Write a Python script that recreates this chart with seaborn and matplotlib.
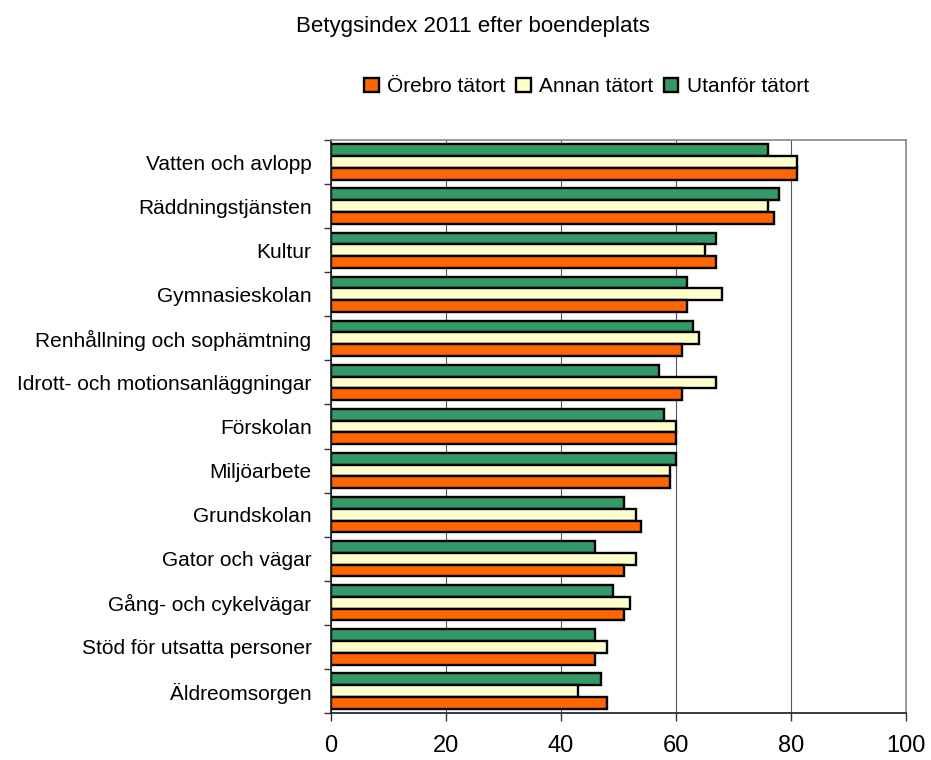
import matplotlib
matplotlib.use("Agg")
import matplotlib.pyplot as plt
import seaborn as sns
import pandas as pd
import numpy as np

categories = [
    "Vatten och avlopp",
    "Räddningstjänsten",
    "Kultur",
    "Gymnasieskolan",
    "Renhållning och sophämtning",
    "Idrott- och motionsanläggningar",
    "Förskolan",
    "Miljöarbete",
    "Grundskolan",
    "Gator och vägar",
    "Gång- och cykelvägar",
    "Stöd för utsatta personer",
    "Äldreomsorgen",
]
orebro = [81, 77, 67, 62, 61, 61, 60, 59, 54, 51, 51, 46, 48]
annan = [81, 76, 65, 68, 64, 67, 60, 59, 53, 53, 52, 48, 43]
utanfor = [76, 78, 67, 62, 63, 57, 58, 60, 51, 46, 49, 46, 47]

series = ["Örebro tätort", "Annan tätort", "Utanför tätort"]
colors = {"Örebro tätort": "#FF6600", "Annan tätort": "#FFFFCC", "Utanför tätort": "#339966"}

df = pd.DataFrame({
    "omrade": categories * 3,
    "serie": [series[0]] * 13 + [series[1]] * 13 + [series[2]] * 13,
    "index": orebro + annan + utanfor,
})

sns.set_theme(style="white")
plt.rcParams["font.family"] = ["Liberation Sans", "DejaVu Sans"]
plt.rcParams["text.color"] = "black"
plt.rcParams["xtick.color"] = "black"
plt.rcParams["ytick.color"] = "black"

fig = plt.figure(figsize=(9.31, 7.6), dpi=100)
ax = fig.add_axes([0.3555, 0.0618, 0.6176, 0.754])

sns.barplot(
    data=df,
    y="omrade",
    x="index",
    hue="serie",
    hue_order=series[::-1],
    order=categories,
    palette=colors,
    saturation=1,
    orient="h",
    width=0.8,
    edgecolor="black",
    linewidth=1.7,
    errorbar=None,
    ax=ax,
)

ax.set_xlim(0, 100)
ax.set_ylim(len(categories) - 0.5, -0.5)
ax.set_xticks(np.arange(0, 101, 20))
ax.xaxis.grid(True, color="#555555", linewidth=0.8)
ax.set_axisbelow(True)
ax.set_xlabel("")
ax.set_ylabel("")

ax.tick_params(axis="x", labelsize=17, length=6, width=1, color="#333333", direction="out", pad=10, bottom=True)
ax.tick_params(axis="y", which="major", labelsize=15, length=0, pad=14)
ax.set_yticks(np.arange(-0.5, len(categories)), minor=True)
ax.tick_params(axis="y", which="minor", length=5, width=1, color="#333333", left=True)

for side in ["top", "right"]:
    ax.spines[side].set_color("#888888")
    ax.spines[side].set_linewidth(1.2)
ax.spines["left"].set_color("#222222")
ax.spines["bottom"].set_color("#222222")

h, l = ax.get_legend_handles_labels()
ax.get_legend().remove()
fig.legend(
    h[::-1], l[::-1],
    loc="center",
    bbox_to_anchor=(0.63, 0.886),
    ncol=3,
    frameon=False,
    fontsize=15,
    handlelength=0.7,
    handleheight=0.7,
    handletextpad=0.4,
    columnspacing=0.5,
)

fig.text(0.508, 0.965, "Betygsindex 2011 efter boendeplats", ha="center", va="center", fontsize=16)

fig.savefig("out.png", dpi=100, facecolor="white")
